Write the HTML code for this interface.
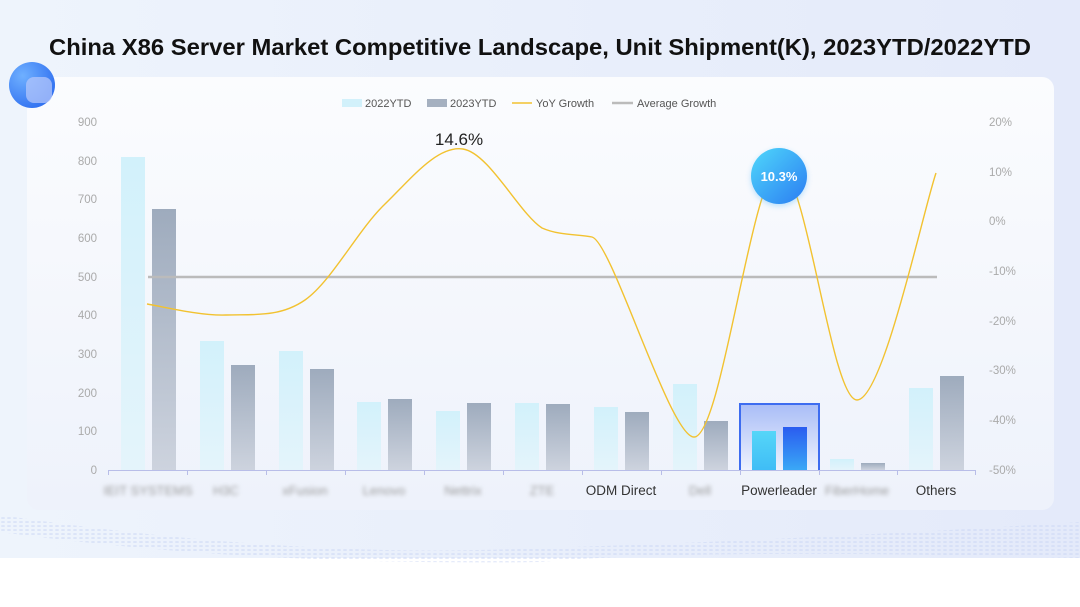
<!DOCTYPE html>
<html><head><meta charset="utf-8"><style>
html,body{margin:0;padding:0;width:1080px;height:607px;overflow:hidden;background:#fff;font-family:"Liberation Sans",sans-serif}
</style></head><body>
<svg width="1080" height="607" viewBox="0 0 1080 607" xmlns="http://www.w3.org/2000/svg" font-family="Liberation Sans, sans-serif">
<defs>
<linearGradient id="bg" x1="0" y1="0" x2="1" y2="0"><stop offset="0" stop-color="#eef4fc"/><stop offset="1" stop-color="#e4eafa"/></linearGradient>
<linearGradient id="panel" x1="0" y1="0" x2="0" y2="1"><stop offset="0" stop-color="#fbfcfe"/><stop offset="1" stop-color="#eef2fb"/></linearGradient>
<linearGradient id="b22" x1="0" y1="0" x2="0" y2="1"><stop offset="0" stop-color="#d2f1fb"/><stop offset="1" stop-color="#e4f4fb"/></linearGradient>
<linearGradient id="b23" x1="0" y1="0" x2="0" y2="1"><stop offset="0" stop-color="#9eabbd"/><stop offset="1" stop-color="#cdd3de"/></linearGradient>
<linearGradient id="hl" x1="0" y1="0" x2="0" y2="1"><stop offset="0" stop-color="#a9bdf7"/><stop offset="1" stop-color="#eef2fd"/></linearGradient>
<linearGradient id="p22" x1="0" y1="0" x2="0" y2="1"><stop offset="0" stop-color="#56d6f8"/><stop offset="1" stop-color="#3fbdf6"/></linearGradient>
<linearGradient id="p23" x1="0" y1="0" x2="0" y2="1"><stop offset="0" stop-color="#2a5cf0"/><stop offset="1" stop-color="#3aa8f6"/></linearGradient>
<linearGradient id="bub" x1="0" y1="0" x2="1" y2="1"><stop offset="0" stop-color="#4fd8fb"/><stop offset="1" stop-color="#2b7cf2"/></linearGradient>
<radialGradient id="orb" cx="0.3" cy="0.3" r="0.8"><stop offset="0" stop-color="#6fb0ff"/><stop offset="1" stop-color="#2f6ff0"/></radialGradient>
<filter id="blur"><feGaussianBlur stdDeviation="2.2"/></filter>
<filter id="sh"><feGaussianBlur stdDeviation="3"/></filter>
<pattern id="dots" width="6" height="4" patternUnits="userSpaceOnUse"><ellipse cx="3" cy="2" rx="2" ry="1" fill="#c9d5f4"/></pattern>
</defs>
<rect x="0" y="0" width="1080" height="558" fill="url(#bg)"/>
<path d="M0 515 Q300 560 540 548 Q800 540 1080 522 L1080 558 Q700 548 540 562 Q250 566 0 532Z" fill="url(#dots)" opacity="0.5"/>
<text x="49" y="55" font-size="23" font-weight="bold" fill="#111" textLength="982" lengthAdjust="spacingAndGlyphs">China X86 Server Market Competitive Landscape, Unit Shipment(K), 2023YTD/2022YTD</text>
<rect x="27" y="77" width="1027" height="433" rx="12" fill="url(#panel)"/>
<circle cx="32" cy="85" r="23" fill="url(#orb)"/>
<rect x="26" y="77" width="26" height="26" rx="8" fill="#b3c6fb" opacity="0.75"/>
<g font-size="11" fill="#555">
<rect x="342" y="99" width="20" height="8" fill="#d2f1fb"/><text x="365" y="107">2022YTD</text>
<rect x="427" y="99" width="20" height="8" fill="#a5b0c0"/><text x="450" y="107">2023YTD</text>
<line x1="512" y1="103" x2="532" y2="103" stroke="#f2c230" stroke-width="1.5"/><text x="536" y="107">YoY Growth</text>
<line x1="612" y1="103" x2="633" y2="103" stroke="#bbb" stroke-width="2.5"/><text x="637" y="107">Average Growth</text>
</g>
<g font-size="11.5" fill="#aaa" text-anchor="end">
<text x="97" y="126">900</text><text x="97" y="165">800</text><text x="97" y="203">700</text><text x="97" y="242">600</text><text x="97" y="281">500</text><text x="97" y="319">400</text><text x="97" y="358">300</text><text x="97" y="397">200</text><text x="97" y="435">100</text><text x="97" y="474">0</text>
</g>
<g font-size="11.5" fill="#aaa">
<text x="989" y="126">20%</text><text x="989" y="176">10%</text><text x="989" y="225">0%</text><text x="989" y="275">-10%</text><text x="989" y="325">-20%</text><text x="989" y="374">-30%</text><text x="989" y="424">-40%</text><text x="989" y="474">-50%</text>
</g>
<rect x="740" y="404" width="79" height="66" fill="url(#hl)"/>
<path d="M740 470 V404 H819 V470" fill="none" stroke="#3d6cf0" stroke-width="2"/>
<g>
<rect x="121" y="157" width="24" height="313" fill="url(#b22)"/><rect x="152" y="209" width="24" height="261" fill="url(#b23)"/>
<rect x="200" y="341" width="24" height="129" fill="url(#b22)"/><rect x="231" y="365" width="24" height="105" fill="url(#b23)"/>
<rect x="279" y="351" width="24" height="119" fill="url(#b22)"/><rect x="310" y="369" width="24" height="101" fill="url(#b23)"/>
<rect x="357" y="402" width="24" height="68" fill="url(#b22)"/><rect x="388" y="399" width="24" height="71" fill="url(#b23)"/>
<rect x="436" y="411" width="24" height="59" fill="url(#b22)"/><rect x="467" y="403" width="24" height="67" fill="url(#b23)"/>
<rect x="515" y="403" width="24" height="67" fill="url(#b22)"/><rect x="546" y="404" width="24" height="66" fill="url(#b23)"/>
<rect x="594" y="407" width="24" height="63" fill="url(#b22)"/><rect x="625" y="412" width="24" height="58" fill="url(#b23)"/>
<rect x="673" y="384" width="24" height="86" fill="url(#b22)"/><rect x="704" y="421" width="24" height="49" fill="url(#b23)"/>
<rect x="752" y="431" width="24" height="39" fill="url(#p22)"/><rect x="783" y="427" width="24" height="43" fill="url(#p23)"/>
<rect x="830" y="459" width="24" height="11" fill="url(#b22)"/><rect x="861" y="463" width="24" height="7" fill="url(#b23)"/>
<rect x="909" y="388" width="24" height="82" fill="url(#b22)"/><rect x="940" y="376" width="24" height="94" fill="url(#b23)"/>
</g>
<line x1="108" y1="470.5" x2="976" y2="470.5" stroke="#b8bde8" stroke-width="1"/>
<g stroke="#b8bde8"><line x1="108.5" y1="470" x2="108.5" y2="475"/><line x1="187.5" y1="470" x2="187.5" y2="475"/><line x1="266.5" y1="470" x2="266.5" y2="475"/><line x1="345.5" y1="470" x2="345.5" y2="475"/><line x1="424.5" y1="470" x2="424.5" y2="475"/><line x1="503.5" y1="470" x2="503.5" y2="475"/><line x1="582.5" y1="470" x2="582.5" y2="475"/><line x1="661.5" y1="470" x2="661.5" y2="475"/><line x1="740.5" y1="470" x2="740.5" y2="475"/><line x1="819.5" y1="470" x2="819.5" y2="475"/><line x1="897.5" y1="470" x2="897.5" y2="475"/><line x1="975.5" y1="470" x2="975.5" y2="475"/></g>
<g font-size="13" fill="#999" text-anchor="middle" filter="url(#blur)">
<text x="148" y="495">IEIT SYSTEMS</text><text x="226" y="495">H3C</text><text x="305" y="495">xFusion</text><text x="384" y="495">Lenovo</text><text x="463" y="495">Nettrix</text><text x="542" y="495">ZTE</text><text x="700" y="495">Dell</text><text x="857" y="495">FiberHome</text>
</g>
<g font-size="13.5" fill="#333" text-anchor="middle">
<text x="621" y="495">ODM Direct</text><text x="779" y="495">Powerleader</text><text x="936" y="495">Others</text>
</g>
<line x1="148" y1="277" x2="937" y2="277" stroke="#bbb" stroke-width="2.5"/>
<path d="M147 304 C160 306 200 316 226 315 C252 314 279 318 305 300 C331 282 358 230 384 205 C410 180 437 145 463 149 C489 153 519 213 542 228 C560 236 580 234 592 237 C612 242 670 437 694 437 C722 437 752 170 779 168 C806 166 831 400 857 400 C883 400 923 211 936 173" fill="none" stroke="#f2c230" stroke-width="1.4"/>
<text x="459" y="145" text-anchor="middle" font-size="17" fill="#222">14.6%</text>
<circle cx="779" cy="178" r="28" fill="#5ab8f8" opacity="0.4" filter="url(#sh)"/>
<circle cx="779" cy="176" r="28" fill="url(#bub)"/>
<text x="779" y="181" text-anchor="middle" font-size="13" font-weight="bold" fill="#fff">10.3%</text>
</svg>
</body></html>
